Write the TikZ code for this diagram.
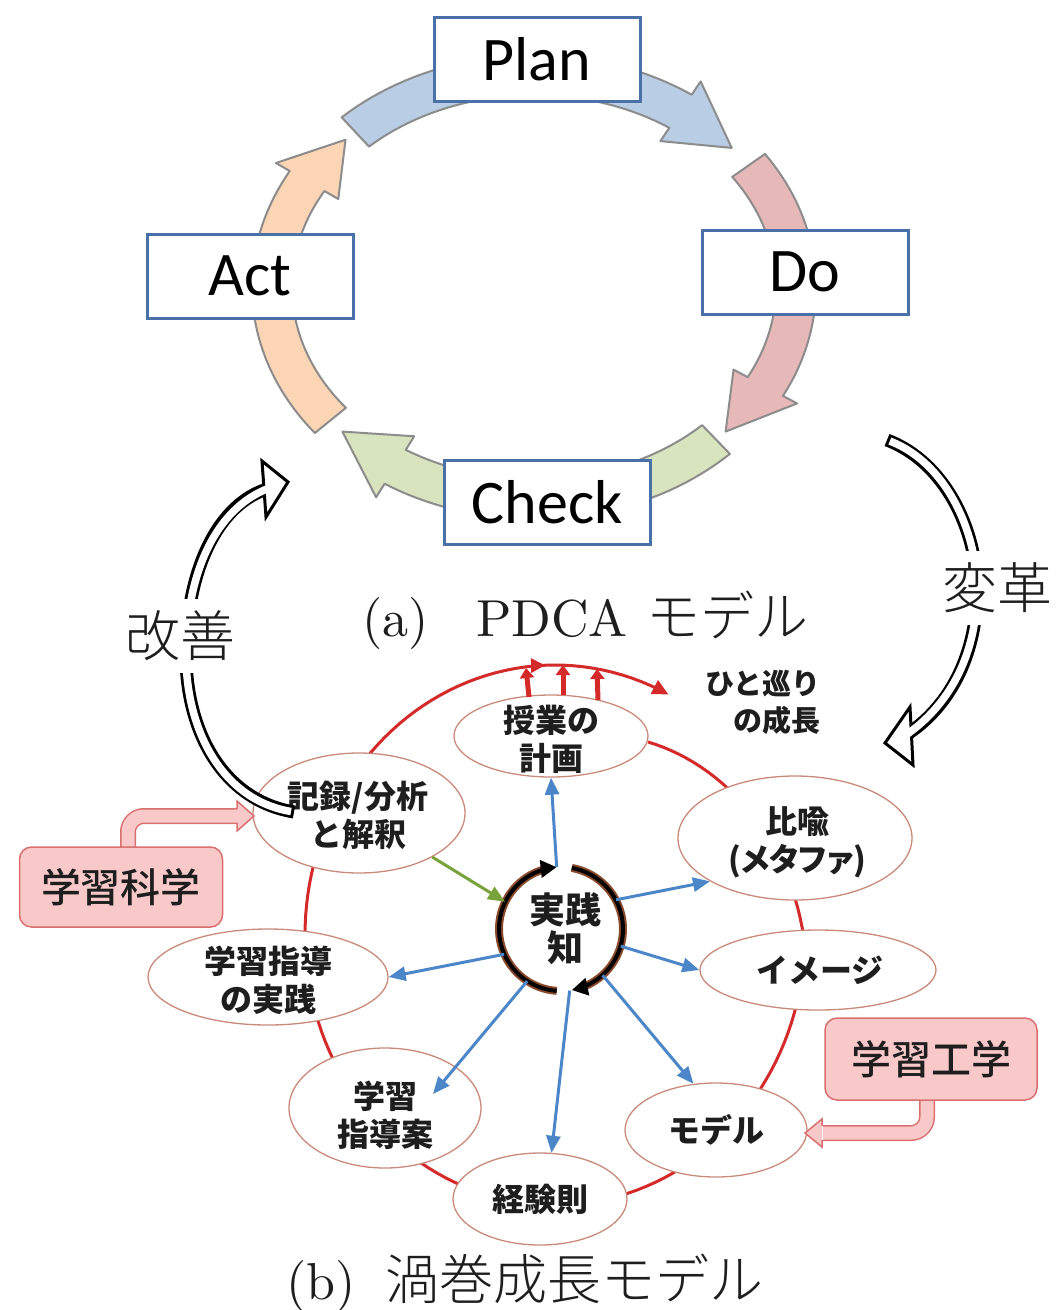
\documentclass[tikz,border=0pt]{standalone}
\usepackage{fontspec}
\usetikzlibrary{arrows.meta,shapes.geometric,decorations.markings,calc}
\newfontfamily\carlito{Carlito}
\newfontfamily\jp{Noto Sans CJK JP}
\newfontfamily\jpp{Noto Sans CJK JP}[RawFeature=+palt]
\newfontfamily\jpl{Noto Sans CJK JP Light}
\newfontfamily\jpm{Noto Sans CJK JP Medium}
\newfontfamily\cmten[Extension=.otf]{lmroman10-regular}
\definecolor{boxblue}{HTML}{4A70A8}
\definecolor{bandgray}{HTML}{8C8C8C}
\definecolor{bandblue}{HTML}{B9CDE5}
\definecolor{bandpink}{HTML}{E6B9B8}
\definecolor{bandgreen}{HTML}{D7E4BD}
\definecolor{bandorange}{HTML}{FCD5B5}
\definecolor{spiralred}{HTML}{D42A2A}
\definecolor{ellborder}{HTML}{C98A7A}
\definecolor{arrowblue}{HTML}{4A86C8}
\definecolor{arrowgreen}{HTML}{77A33A}
\definecolor{pinkfill}{HTML}{F9C8C8}
\definecolor{pinkborder}{HTML}{D9706F}
\definecolor{ringbrown}{HTML}{8B4A2B}
\definecolor{txt}{HTML}{1E1E1E}
% PDCA circular band: colour, start angle, band end angle, tip angle
\newcommand\cyclearrow[4]{%
  \path[pdcaband, fill=#1]
    plot[domain=#2:#3, samples=40] ({534+282*cos(\x)},{287+232*sin(\x)})
    -- ({534+298*cos(#3)},{287+248*sin(#3)})
    -- ({534+262*cos(#4)},{287+212*sin(#4)})
    -- ({534+226*cos(#3)},{287+176*sin(#3)})
    -- plot[domain=#3:#2, samples=40] ({534+242*cos(\x)},{287+192*sin(\x)})
    -- cycle;}
\begin{document}
\begin{tikzpicture}[x=1pt,y=-1pt,
  pdcaband/.style={draw=bandgray, line width=2pt, line join=round},
  pdcabox/.style={draw=boxblue, line width=3pt, fill=white, minimum width=206pt,
    minimum height=84pt, inner sep=0pt, text=black, font=\carlito\fontsize{62}{62}\selectfont},
  ell/.style={ellipse, draw=ellborder, line width=1.3pt, fill=white, inner sep=0pt},
  elltext/.style={align=center, text=txt, inner sep=0pt, font=\jp\bfseries\fontsize{32}{38}\selectfont},
  bluearrow/.style={draw=arrowblue, line width=3pt, -{Triangle[length=17pt,width=14pt]}},
  greenarrow/.style={draw=arrowgreen, line width=3pt, -{Triangle[length=17pt,width=14pt]}},
  pinkbox/.style={draw=pinkborder, fill=pinkfill, line width=1.5pt, rounded corners=12pt,
    text=txt, font=\jpm\fontsize{40}{40}\selectfont},
  fatpink/.style={draw=pinkborder, line width=1.5pt, double=pinkfill, double distance=13pt, rounded corners=16pt},
  pinkhead/.style={fill=pinkfill, draw=pinkborder, line width=1.5pt, line join=miter},
  hollowout/.style={draw=black, line width=13pt},
  hollowin/.style={draw=white, line width=7.5pt},
  hollowhead/.style={fill=white, draw=black, line width=3pt, line join=miter},
  biglabel/.style={font=\jpl\fontsize{55}{55}\selectfont, fill=white, inner xsep=2pt, inner ysep=12pt, text=txt},
  capnode/.style={anchor=base west, inner sep=0pt, text=txt},
  spiral/.style={draw=spiralred, line width=3pt},
  growth/.style={draw=spiralred, line width=5pt, -{Triangle[length=10pt,width=14pt]}},
  ringhalo/.style={draw=ringbrown, line width=8pt},
  ringline/.style={draw=black, line width=4pt, -{Triangle[length=16pt,width=17pt]}}
]
\useasboundingbox (0,0) rectangle (1059,1310);

% ---------- (a) PDCA ----------
\cyclearrow{bandblue}{227}{304}{319}
\cyclearrow{bandpink}{325}{388}{403}
\cyclearrow{bandgreen}{46}{122}{137}
\cyclearrow{bandorange}{141}{210}{224}

\node[pdcabox] (plan) at (537,59) {Plan};
\node[pdcabox] (do) at (805,272) {Do};
\node[pdcabox] (act) at (250,276) {Act};
\node[pdcabox] (check) at (547,502) {Check};

\node[capnode, font=\cmten\fontsize{52}{52}\selectfont] (capa1) at (362,636) {(a)};
\node[capnode, font=\cmten\fontsize{52}{52}\selectfont] (capa2) at (476,636) {PDCA};
\node[capnode, font=\jpl\fontsize{54}{54}\selectfont] (capa3) at (646,636) {モデル};

% ---------- (b) spiral growth model ----------
\draw[spiral, -{Triangle[length=16pt,width=15pt]},
  postaction={decorate},
  decoration={markings, mark=at position 0.92 with {\arrow{Triangle[length=14pt,width=14pt]}}}]
  plot[domain=-62.5:297, samples=160]
  ({555+250*min(1,0.806+0.003*(\x+62.5))*cos(\x)},{935+270*min(1,0.806+0.003*(\x+62.5))*sin(\x)});

\node[ell, minimum width=194pt, minimum height=82pt] (keikaku) at (551,736) {};
\node[ell, minimum width=212pt, minimum height=120pt] (kiroku) at (359,813) {};
\node[ell, minimum width=234pt, minimum height=124pt] (hiyu) at (795,838) {};
\node[ell, minimum width=240pt, minimum height=96pt] (jissen) at (268,977) {};
\node[ell, minimum width=236pt, minimum height=80pt] (image) at (818,970) {};
\node[ell, minimum width=192pt, minimum height=120pt] (shidoan) at (385,1108) {};
\node[ell, minimum width=174pt, minimum height=92pt] (keiken) at (540,1199) {};
\node[ell, minimum width=182pt, minimum height=94pt] (model) at (716,1130) {};

\node[elltext] (keikaku-t) at (551,739) {授業の\\計画};
\node[elltext] (kiroku-t) at (358,815) {記録/分析\\と解釈};
\node[elltext] (hiyu-t) at (797,842) {比喩\\{\jpp\bfseries(メタファ)}};
\node[elltext] (jissen-t) at (268,980) {学習指導\\の実践};
\node[elltext] (image-t) at (820,970) {イメージ};
\node[elltext] (shidoan-t) at (385,1115) {学習\\指導案};
\node[elltext] (keiken-t) at (540,1199) {経験則};
\node[elltext] (model-t) at (716,1130) {モデル};

\node[font=\jp\bfseries\fontsize{29}{37}\selectfont, align=right, anchor=east, inner sep=0pt, text=txt]
  (meguri) at (821,702) {ひと巡り\\の成長};

% growth arrows
\coordinate (g1s) at (529,697); \coordinate (g1e) at (526,668);
\coordinate (g2s) at (563,695); \coordinate (g2e) at (563,665);
\coordinate (g3s) at (598,700); \coordinate (g3e) at (597,669);
\draw[growth] (g1s) -- (g1e);
\draw[growth] (g2s) -- (g2e);
\draw[growth] (g3s) -- (g3e);

% core
\node[circle, minimum size=124pt, inner sep=0pt] (core) at (561,929) {};
\draw[ringhalo] plot[domain=94:258, samples=40] ({561+62*cos(\x)},{929+62*sin(\x)});
\draw[ringhalo] plot[domain=280:432, samples=40] ({561+62*cos(\x)},{929+62*sin(\x)});
\draw[ringline] plot[domain=94:266, samples=40] ({561+62*cos(\x)},{929+62*sin(\x)});
\draw[ringline] plot[domain=280:440, samples=40] ({561+62*cos(\x)},{929+62*sin(\x)});
\node[font=\jp\bfseries\fontsize{36}{38}\selectfont, align=center, inner sep=0pt, text=txt]
  (core-t) at (565,929) {実践\\知};

\draw[bluearrow] (core.94) -- (keikaku.south);
\draw[bluearrow] (core.28) -- (hiyu.207);
\draw[bluearrow] (core.-16) -- (image.west);
\draw[bluearrow] (core.-48) -- (model.116);
\draw[bluearrow] (core.-82) -- (keiken.76);
\draw[bluearrow] (core.-123) -- ($(shidoan.center)+(48,-14)$);
\draw[bluearrow] (core.204) -- (jissen.east);
\draw[greenarrow] (kiroku.-31) -- (core.154);

% pink boxes and bent arrows
\coordinate (kag-s) at (128,852); \coordinate (kag-c) at (128,816); \coordinate (kag-e) at (238,816);
\draw[fatpink] (kag-s) -- (kag-c) -- (kag-e);
\path[pinkhead] (237,809) -- (237,801) -- (254,816) -- (237,831) -- (237,823);
\node[pinkbox, minimum width=203pt, minimum height=80pt] (kagaku) at (121,887) {学習科学};

\coordinate (kog-s) at (927,1095); \coordinate (kog-c) at (927,1133); \coordinate (kog-e) at (823,1133);
\draw[fatpink] (kog-s) -- (kog-c) -- (kog-e);
\path[pinkhead] (822,1140) -- (822,1147) -- (805,1133) -- (822,1119) -- (822,1126);
\node[pinkbox, minimum width=212pt, minimum height=82pt] (kogaku) at (931,1059) {学習工学};

\node[capnode, font=\cmten\fontsize{52}{52}\selectfont] (capb1) at (286,1299) {(b)};
\node[capnode, font=\jpl\fontsize{54}{54}\selectfont] (capb2) at (385,1299) {渦巻成長モデル};

% ---------- hollow arrows ----------
\coordinate (hen-tail) at (887,440);
\coordinate (hen-end) at (909,733);
\draw[hollowout] (hen-tail) .. controls (945,462) and (977,530) .. (977,590)
  .. controls (977,650) and (953,703) .. (hen-end);
\path[hollowhead] (910,707) -- (885,743) -- (913,765) -- cycle;
\draw[hollowin, shorten <=3pt, shorten >=-6pt] (hen-tail) .. controls (945,462) and (977,530) .. (977,590)
  .. controls (977,650) and (953,703) .. (hen-end);
\node[biglabel] (henkaku) at (997,588) {変革};

\coordinate (kai-tail) at (294,812);
\coordinate (kai-end) at (264,490);
\draw[hollowout] (kai-tail) .. controls (222,800) and (186,730) .. (186,655)
  .. controls (186,575) and (215,508) .. (kai-end);
\path[hollowhead] (262,461) -- (288,482) -- (266,517) -- cycle;
\draw[hollowin, shorten <=3pt, shorten >=-6pt] (kai-tail) .. controls (222,800) and (186,730) .. (186,655)
  .. controls (186,575) and (215,508) .. (kai-end);
\node[biglabel] (kaizen) at (180,636) {改善};
\end{tikzpicture}
\end{document}
